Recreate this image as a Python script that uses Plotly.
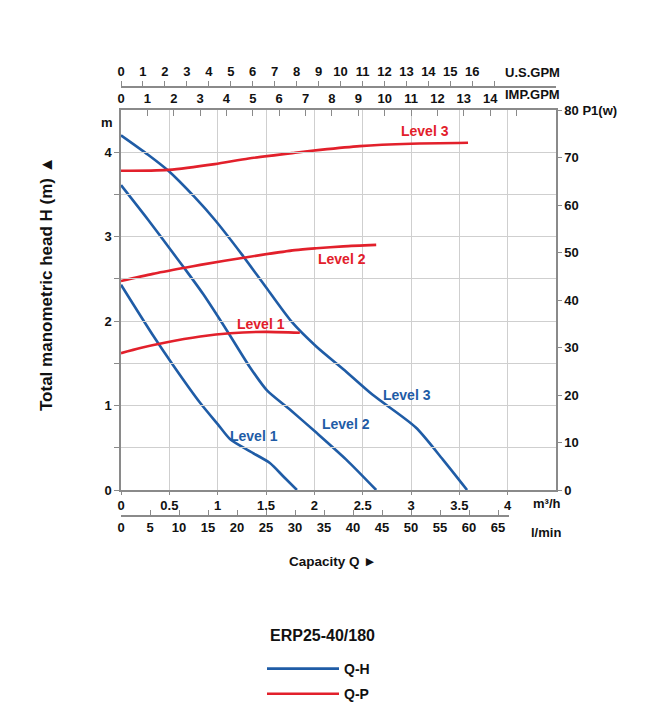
import plotly.graph_objects as go

# ---------------- data ----------------
# Q-H curves (capacity m3/h -> head m)
q_h1 = [0, 0.32, 0.55, 0.82, 1.0, 1.13, 1.33, 1.54, 1.68, 1.82]
h_h1 = [2.43, 1.85, 1.46, 1.03, 0.78, 0.60, 0.46, 0.32, 0.16, 0]
q_h2 = [0, 0.28, 0.49, 0.66, 0.85, 1.1, 1.33, 1.51, 1.75, 2.02, 2.33, 2.64]
h_h2 = [3.61, 3.20, 2.88, 2.62, 2.32, 1.88, 1.46, 1.18, 0.95, 0.68, 0.36, 0]
q_h3 = [0, 0.28, 0.49, 0.76, 0.97, 1.25, 1.5, 1.76, 2.02, 2.3, 2.6, 3.05, 3.33, 3.58]
h_h3 = [4.2, 3.97, 3.78, 3.47, 3.2, 2.79, 2.40, 2.0, 1.70, 1.43, 1.13, 0.74, 0.36, 0]
# Q-P curves (capacity m3/h -> power W)
q_p1 = [0, 0.2, 0.45, 0.82, 1.13, 1.5, 1.85]
p_p1 = [28.8, 29.9, 31.0, 32.3, 33.0, 33.3, 33.1]
q_p2 = [0, 0.33, 0.66, 0.82, 1.3, 1.8, 2.02, 2.3, 2.64]
p_p2 = [44.0, 45.5, 46.8, 47.4, 49.0, 50.5, 50.9, 51.3, 51.6]
q_p3 = [0, 0.49, 0.97, 1.32, 1.8, 2.06, 2.47, 3.0, 3.59]
p_p3 = [67.2, 67.4, 68.6, 69.8, 71.0, 71.6, 72.4, 72.9, 73.1]

# axis ticks
m3h_ticks = [0, 0.5, 1, 1.5, 2, 2.5, 3, 3.5, 4]
m3h_labels = ["0", "0.5", "1", "1.5", "2", "2.5", "3", "3.5", "4"]
lmin_ticks = list(range(0, 70, 5))
usgpm_ticks = list(range(0, 18))
usgpm_labels = [str(v) for v in range(0, 17)] + [""]
impgpm_ticks = list(range(0, 16))
impgpm_labels = [str(v) for v in range(0, 15)] + [""]
head_ticks = [0, 0.5, 1, 1.5, 2, 2.5, 3, 3.5, 4]
head_labels = ["0", "", "1", "", "2", "", "3", "", "4"]
power_ticks = list(range(0, 90, 10))
power_labels = [str(v) for v in range(0, 80, 10)] + ["80 P1(w)"]

M3H_MAX = 4.5
US_GPM = 0.22712   # m3/h per US gpm
IMP_GPM = 0.27277  # m3/h per imp gpm
LMIN_PER_M3H = 1000 / 60

BLUE = "#1f5ca6"
RED = "#e2202b"
GRID = "#cfcfcf"
AX = "#8a8a8a"
FONT = "Liberation Sans"

# ---------------- layout geometry ----------------
W, H = 652, 720
L, R, T, B = 121, 556, 110, 490
def px(x):
    return x / W
def py(y):
    return 1 - y / H

fig = go.Figure()

def add(q, v, color, name, show, yaxis="y"):
    fig.add_trace(go.Scatter(
        x=q, y=v, mode="lines", name=name, legendgroup=name, showlegend=show,
        line=dict(color=color, width=2.6, shape="spline", smoothing=0.7),
        xaxis="x", yaxis=yaxis, hoverinfo="skip"))

add(q_h1, h_h1, BLUE, "Q-H", True)
add(q_h2, h_h2, BLUE, "Q-H", False)
add(q_h3, h_h3, BLUE, "Q-H", False)
add(q_p1, p_p1, RED, "Q-P", True, "y2")
add(q_p2, p_p2, RED, "Q-P", False, "y2")
add(q_p3, p_p3, RED, "Q-P", False, "y2")

# dummy traces to activate secondary x axes
for ax in ["x2", "x3", "x4"]:
    fig.add_trace(go.Scatter(x=[None], y=[None], xaxis=ax, yaxis="y",
                             showlegend=False, hoverinfo="skip"))

tickfont = dict(family=FONT, size=13, color="#111", weight="bold")

lmin_right = (509 - L) / (R - L) * M3H_MAX * LMIN_PER_M3H

fig.update_layout(
    width=W, height=H,
    margin=dict(l=0, r=0, t=0, b=0),
    paper_bgcolor="white", plot_bgcolor="rgba(0,0,0,0)",
    font=dict(family=FONT, color="#111"),
    xaxis=dict(domain=[px(L), px(R)], range=[0, M3H_MAX], tickvals=m3h_ticks,
               ticktext=m3h_labels, showgrid=True, gridcolor=GRID, gridwidth=1,
               showline=True, linecolor=AX, linewidth=1.5, mirror=True,
               ticks="outside", ticklen=3, tickcolor=AX, tickfont=tickfont,
               zeroline=False, automargin=False, fixedrange=True),
    xaxis2=dict(overlaying="x", side="top", anchor="y", range=[0, M3H_MAX / IMP_GPM],
                tickvals=impgpm_ticks, ticktext=impgpm_labels, showgrid=False,
                showline=True, linecolor=AX, linewidth=1.5, ticks="inside", ticklen=6,
                tickcolor=AX, tickfont=tickfont, zeroline=False, automargin=False),
    xaxis3=dict(overlaying="x", side="top", anchor="free", position=py(87),
                range=[0, M3H_MAX / US_GPM], tickvals=usgpm_ticks, ticktext=usgpm_labels,
                showgrid=False, showline=True, linecolor=AX, linewidth=1.5,
                ticks="outside", ticklen=5, tickcolor=AX, tickfont=tickfont,
                zeroline=False, automargin=False),
    xaxis4=dict(domain=[px(L), px(509)], anchor="free", position=py(516), side="bottom",
                range=[0, lmin_right], tickvals=lmin_ticks, showgrid=False,
                showline=True, linecolor=AX, linewidth=1.5, ticks="inside", ticklen=5,
                tickcolor=AX, tickfont=tickfont, zeroline=False, automargin=False),
    yaxis=dict(domain=[py(B), py(T)], range=[0, 4.5], tickvals=head_ticks,
               ticktext=head_labels, showgrid=True, gridcolor=GRID, gridwidth=1,
               showline=True, linecolor=AX, linewidth=1.5, mirror=True,
               ticks="outside", ticklen=5, tickcolor=AX, tickfont=tickfont,
               zeroline=False, automargin=False, fixedrange=True),
    yaxis2=dict(overlaying="y", side="right", anchor="x", range=[0, 80],
                tickvals=power_ticks, ticktext=power_labels, showgrid=False,
                showline=True, linecolor=AX, linewidth=1.5, ticks="outside",
                ticklen=4, tickcolor=AX, tickfont=tickfont, zeroline=False,
                automargin=False),
    showlegend=True,
    legend=dict(x=px(262), y=py(653), xanchor="left", yanchor="top",
                font=dict(family=FONT, size=14, color="#111", weight="bold"),
                bgcolor="rgba(0,0,0,0)", tracegroupgap=4, itemwidth=72),
)

def note(text, x, y, color="#111", size=13, xref="paper", yref="paper", angle=0,
         xanchor="center"):
    fig.add_annotation(text=text, x=x, y=y, xref=xref, yref=yref, showarrow=False,
                       textangle=angle, xanchor=xanchor, yanchor="middle",
                       font=dict(family=FONT, size=size, color=color, weight="bold"))

# curve labels (data coordinates)
note("Level 3", 3.14, 4.25, RED, 14, "x", "y")
note("Level 2", 2.29, 2.74, RED, 14, "x", "y")
note("Level 1", 1.45, 1.97, RED, 14, "x", "y")
note("Level 1", 1.38, 0.64, BLUE, 14, "x", "y")
note("Level 2", 2.33, 0.78, BLUE, 14, "x", "y")
note("Level 3", 2.96, 1.12, BLUE, 14, "x", "y")

# axis unit labels
note("U.S.GPM", px(562), py(73), xanchor="right")
note("IMP.GPM", px(562), py(95), xanchor="right")
note("m", px(107), py(122))
note("m³/h", px(563), py(504), xanchor="right")
note("l/min", px(563), py(532), size=13, xanchor="right")
note("Capacity Q ►", px(333), py(561), size=13.5)
note("Total manometric head H (m) ▲", px(47), py(284), size=17, angle=-90)
note("ERP25-40/180", px(322), py(635), size=16)

fig.write_html("out.html")
